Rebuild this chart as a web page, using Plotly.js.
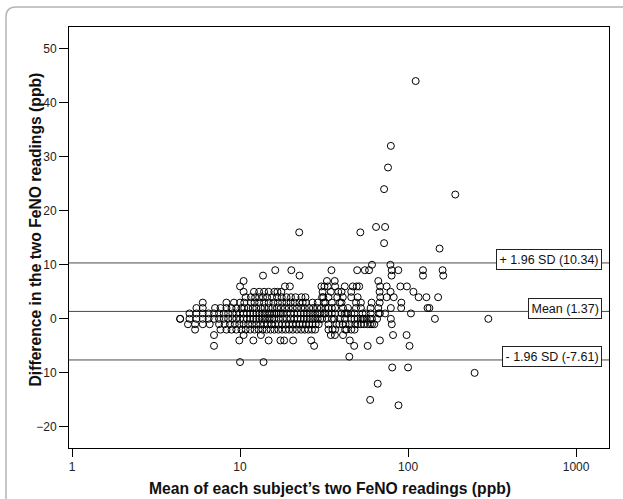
<!DOCTYPE html>
<html>
<head>
<meta charset="utf-8">
<script src="https://cdn.plot.ly/plotly-3.0.1.min.js"></script>
<style>html,body{margin:0;padding:0;background:#fff;}#chart{width:623px;height:499px;}</style>
</head>
<body>
<div id="chart"></div>
<script>
// Difference levels (ppb) and the subject means (ppb) read at each level
const diffLevels = [44, 32, 28, 24, 23, 17, 16, 14, 13, 10, 9, 8, 7, 6, 5, 4, 3, 2, 1, 0, -1, -2, -3, -4, -5, -7, -8, -9, -10, -12, -15, -16];
const meansAtLevel = [
  [111],
  [79],
  [76],
  [72],
  [191],
  [64.5, 73],
  [22.5, 52],
  [72],
  [154],
  [61, 78.5],
  [16.2, 20.2, 35, 49.8, 55.3, 58.6, 80, 87.5, 122.7, 160.5],
  [13.7, 22.6, 79.8, 122.7, 162],
  [10.5, 32.9, 36.6, 66.5],
  [10, 18.5, 19.8, 30.5, 31.8, 33.3, 36.8, 42, 46.9, 49.5, 51.2, 68.2, 74.6, 90, 98.4],
  [10.5, 12.1, 13, 13.9, 14.8, 16, 16.7, 17.6, 31, 34.7, 38.4, 40.2, 45.9, 67.7, 78.7, 107.6],
  [10.8, 11.6, 12.3, 13, 13.7, 14.5, 15.5, 16.6, 17.7, 18.9, 20.1, 21.4, 23.2, 24.5, 30.8, 31.3, 33.6, 37.9, 40.9, 45.9, 50.1, 68.3, 74.6, 82.2, 115.6, 128.6, 151],
  [6.0, 8.3, 9.2, 10, 10.6, 11.6, 12.2, 13, 13.9, 14.8, 15.8, 16.8, 17.8, 18.9, 20, 21.2, 22.6, 23.6, 24.7, 27, 29, 31.5, 32.2, 35.2, 39.3, 40.2, 49, 52.4, 60.7, 67.8, 91.2],
  [5.5, 6, 7.1, 7.65, 8.3, 8.9, 9.5, 10.2, 10.6, 11.2, 11.9, 12.5, 13.3, 14, 14.8, 15.6, 16.6, 17.5, 18.5, 19.5, 20.6, 21.8, 23.1, 24.3, 25.8, 27.2, 28.8, 30.3, 32.2, 33.6, 35.2, 36.8, 41, 43.9, 49, 52.4, 59.9, 66.5, 79, 91, 130.6, 134],
  [5, 5.5, 6, 6.5, 7, 7.5, 8, 8.5, 9, 9.5, 10, 10.5, 11, 11.5, 12, 12.5, 13, 13.5, 14, 14.5, 15, 15.5, 16, 16.5, 17, 17.5, 18, 19, 20, 21, 22, 23, 24, 25, 26, 27, 28, 29, 30, 31.5, 32.2, 33.6, 35.2, 36.8, 40.2, 42, 43, 43.9, 45.9, 48, 53.6, 56, 59.9, 66.8, 68, 73, 104],
  [4.4, 4.4, 5, 5.5, 6, 6.5, 7, 7.5, 8, 8.5, 9, 9.5, 10, 10.5, 11, 11.5, 12, 12.5, 13, 13.5, 14, 14.5, 15, 15.5, 16, 17, 18, 19, 20, 21, 22, 23, 24, 25, 26, 27, 28, 29, 30, 30.8, 32.9, 35.2, 36.4, 39.3, 42, 45.9, 48, 50.1, 52.4, 53.6, 54.8, 56.7, 59.5, 61, 65.4, 79, 144.5, 300.5],
  [4.9, 5.4, 6, 6.6, 7.5, 8.1, 8.7, 9.3, 9.9, 10.5, 11.2, 11.8, 12.5, 13.2, 13.9, 14.6, 15.4, 16.2, 17, 17.8, 18.7, 19.6, 20.6, 21.6, 22.6, 23.6, 24.7, 25.8, 27, 28.2, 29.4, 33.6, 37.5, 39, 40.8, 42.5, 45, 48.5, 50.1, 52.4, 54.8, 57.3, 59.4, 61, 63, 80],
  [5.4, 7.65, 8.3, 8.9, 9.5, 10.2, 10.8, 11.5, 12.2, 12.9, 13.6, 14.4, 15.2, 16, 16.9, 17.8, 18.7, 19.6, 20.6, 21.8, 23.1, 24.3, 25.5, 26.8, 28, 33.6, 35.5, 36.8, 42.2, 43, 45.9, 48],
  [7, 10.5, 13.3, 34.7, 36.7, 41, 81.4, 98],
  [9.9, 12, 14.8, 17.4, 18.3, 20.7, 26.5, 45, 68],
  [7, 27.6, 47.8, 57.5, 102],
  [44.7],
  [10, 13.8],
  [80.5, 100],
  [249],
  [66],
  [59.5],
  [87.7]
];

// Limits of agreement
const refValues = [10.34, 1.37, -7.61];
const refLabels = ['+ 1.96 SD (10.34)', 'Mean (1.37)', '- 1.96 SD (-7.61)'];

// Axis ticks and titles
const xTickVals = [1, 10, 100, 1000];
const xTickText = ['1', '10', '100', '1000'];
const yTickVals = [-20, -10, 0, 10, 20, 30, 40, 50];
const xTitle = 'Mean of each subject\u2019s two FeNO readings (ppb)';
const yTitle = 'Difference in the two FeNO readings (ppb)';

const xs = [], ys = [];
diffLevels.forEach((d, i) => {
  meansAtLevel[i].forEach(m => { xs.push(m); ys.push(d); });
});

const FONT = 'Liberation Sans, Arial, sans-serif';

const trace = {
  type: 'scatter', mode: 'markers', x: xs, y: ys,
  marker: {symbol: 'circle-open', size: 7, color: '#000', line: {width: 1, color: '#000'}},
  hoverinfo: 'x+y', cliponaxis: true
};

// plot area in pixels: left 69, right 609, top 27, bottom 448
const L = 69, R = 609, T = 27, B = 448, W = R - L, H = B - T;
const px = p => (p - L) / W;
const py = q => (B - q) / H;

const shapes = refValues.map(v => ({
  type: 'line', xref: 'paper', x0: 0, x1: 1, yref: 'y', y0: v, y1: v,
  line: {color: '#4a4a4a', width: 1}, layer: 'below'
}));
// outer rounded panel border
const r = 10;
shapes.push({
  type: 'path', xref: 'paper', yref: 'paper',
  path: `M ${px(6)},${py(530)} L ${px(6)},${py(7 + r)} Q ${px(6)},${py(7)} ${px(6 + r)},${py(7)} L ${px(650)},${py(7)}`,
  line: {color: '#b4b4b4', width: 1.5}
});

const annotations = refValues.map((v, i) => ({
  xref: 'paper', x: px(602), xanchor: 'right', yref: 'y', y: v, yanchor: 'middle', yshift: 3,
  text: refLabels[i], showarrow: false,
  font: {family: FONT, size: 12.5, color: '#111'},
  bgcolor: '#fff', bordercolor: '#222', borderwidth: 1, borderpad: 2.5
}));
annotations.push({
  xref: 'paper', yref: 'paper', x: px(330), y: py(488), xanchor: 'center', yanchor: 'middle',
  text: xTitle, showarrow: false, font: {family: FONT, size: 15.7, color: '#111', weight: 'bold'}
});
annotations.push({
  xref: 'paper', yref: 'paper', x: px(35), y: py(229.5), xanchor: 'center', yanchor: 'middle',
  text: yTitle, textangle: -90, showarrow: false, font: {family: FONT, size: 15.7, color: '#111', weight: 'bold'}
});

const layout = {
  width: 623, height: 499,
  margin: {l: L, r: 623 - R, t: T, b: 499 - B, pad: 0},
  paper_bgcolor: '#fff', plot_bgcolor: '#fff',
  showlegend: false,
  font: {family: FONT, size: 12, color: '#222'},
  xaxis: {
    type: 'log', range: [-0.018, 3.196],
    tickmode: 'array', tickvals: xTickVals, ticktext: xTickText,
    ticks: 'outside', ticklen: 8, tickwidth: 1, tickcolor: '#000',
    showline: true, linecolor: '#000', linewidth: 1, mirror: true,
    showgrid: false, zeroline: false,
    tickfont: {family: FONT, size: 12, color: '#222'}
  },
  yaxis: {
    range: [-23.9, 54],
    tickmode: 'array', tickvals: yTickVals,
    ticks: 'outside', ticklen: 9, tickwidth: 1, tickcolor: '#000',
    showline: true, linecolor: '#000', linewidth: 1, mirror: true,
    showgrid: false, zeroline: false,
    tickfont: {family: FONT, size: 12, color: '#222'}
  },
  shapes: shapes,
  annotations: annotations
};

Plotly.newPlot('chart', [trace], layout, {displayModeBar: false, staticPlot: true});
</script>
</body>
</html>
